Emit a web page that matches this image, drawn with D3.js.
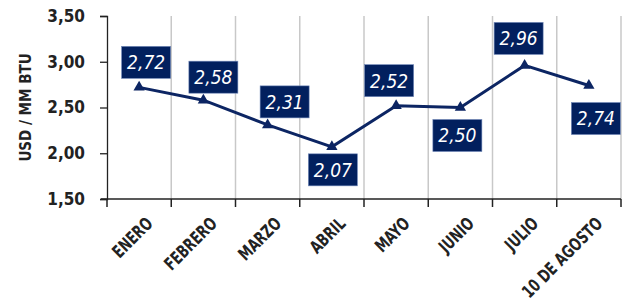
<!DOCTYPE html>
<html>
<head>
<meta charset="utf-8">
<script src="https://cdn.jsdelivr.net/npm/d3@7"></script>
<style>
  body { margin: 0; background: #fff; }
  text { font-family: "DejaVu Sans Condensed", "Liberation Sans Narrow", "DejaVu Sans", sans-serif; font-stretch: condensed; }
</style>
</head>
<body>
<div id="chart"></div>
<script>
// data
var months = ["ENERO", "FEBRERO", "MARZO", "ABRIL", "MAYO", "JUNIO", "JULIO", "10 DE AGOSTO"];
var prices = [2.72, 2.58, 2.31, 2.07, 2.52, 2.50, 2.96, 2.74];
var yTicks = [1.5, 2.0, 2.5, 3.0, 3.5];

// where each value box sits relative to its point [dx, dy]
var labelOffsets = [[7, -25], [10, -23], [17, -23], [1, 23], [-7, -25], [-3, 28], [-6, -27], [7, 33]];

var width = 625, height = 308;
var margin = { top: 16, right: 4, bottom: 109, left: 107 };

var svg = d3.select("#chart")
    .append("svg")
    .attr("width", width)
    .attr("height", height);

var x = d3.scaleBand()
    .domain(months)
    .range([margin.left, width - margin.right]);

var y = d3.scaleLinear()
    .domain([1.5, 3.5])
    .range([height - margin.bottom, margin.top]);

var fmt = function (v) { return d3.format(".2f")(v).replace(".", ","); };

// vertical grid lines at band edges
var edges = months.map(function (m) { return x(m) + x.bandwidth(); });
svg.selectAll(".grid")
    .data(edges)
    .enter()
    .append("line")
    .attr("x1", function (d) { return d; })
    .attr("x2", function (d) { return d; })
    .attr("y1", y(3.5))
    .attr("y2", y(1.5))
    .attr("stroke", "#c8c8c8")
    .attr("stroke-width", 1.5);

// Y axis
var yAxis = svg.append("g")
    .attr("transform", "translate(" + margin.left + ",0)")
    .call(d3.axisLeft(y).tickValues(yTicks).tickFormat(fmt).tickSize(7).tickPadding(15));
yAxis.select(".domain").attr("stroke", "#222").attr("stroke-width", 1.3);
yAxis.selectAll(".tick line").attr("stroke", "#222").attr("stroke-width", 1.3);
yAxis.selectAll("text")
    .style("font-size", "17px")
    .style("font-weight", "bold")
    .attr("fill", "#222");

// X axis
var xAxis = svg.append("g")
    .attr("transform", "translate(0," + y(1.5) + ")");
xAxis.append("line")
    .attr("x1", x.range()[0] - 6)
    .attr("x2", x.range()[1])
    .attr("stroke", "#222")
    .attr("stroke-width", 1.5);
xAxis.selectAll(".xt")
    .data([x.range()[0]].concat(edges))
    .enter()
    .append("line")
    .attr("x1", function (d) { return d; })
    .attr("x2", function (d) { return d; })
    .attr("y1", 0)
    .attr("y2", 8)
    .attr("stroke", "#222")
    .attr("stroke-width", 1.5);
xAxis.selectAll(".xl")
    .data(months)
    .enter()
    .append("text")
    .attr("text-anchor", "end")
    .attr("transform", function (d) {
        return "translate(" + (x(d) + x.bandwidth() / 2 + 6) + ",17) rotate(-45) scale(0.88,1.1)";
    })
    .attr("dy", "0.7em")
    .style("font-size", "16px")
    .style("font-weight", "bold")
    .attr("fill", "#222")
    .text(function (d) { return d; });

// Y axis label
svg.append("text")
    .attr("text-anchor", "middle")
    .attr("transform", "translate(31," + ((y(1.5) + y(3.5)) / 2) + ") rotate(-90)")
    .style("font-size", "15px")
    .style("font-weight", "bold")
    .attr("fill", "#222")
    .text("USD / MM BTU");

// line
var line = d3.line()
    .x(function (d, i) { return x(months[i]) + x.bandwidth() / 2; })
    .y(function (d) { return y(d); });

svg.append("path")
    .datum(prices)
    .attr("fill", "none")
    .attr("stroke", "#0c2563")
    .attr("stroke-width", 3)
    .attr("d", line);

svg.selectAll(".mark")
    .data(prices)
    .enter()
    .append("path")
    .attr("d", d3.symbol().type(d3.symbolTriangle).size(55))
    .attr("transform", function (d, i) {
        return "translate(" + (x(months[i]) + x.bandwidth() / 2) + "," + y(d) + ")";
    })
    .attr("fill", "#0c2563");

// value boxes
var boxW = 49, boxH = 32;
var lab = svg.selectAll(".lab")
    .data(prices)
    .enter()
    .append("g")
    .attr("transform", function (d, i) {
        var cx = x(months[i]) + x.bandwidth() / 2 + labelOffsets[i][0];
        var cy = y(d) + labelOffsets[i][1];
        return "translate(" + cx + "," + cy + ")";
    });
lab.append("rect")
    .attr("x", -boxW / 2)
    .attr("y", -boxH / 2)
    .attr("width", boxW)
    .attr("height", boxH)
    .attr("fill", "#02205e")
    .attr("stroke", "#6f86b8")
    .attr("stroke-width", 0.6);
lab.append("text")
    .attr("text-anchor", "middle")
    .attr("dy", "0.36em")
    .style("font-size", "19px")
    .style("font-style", "italic")
    .attr("fill", "#fff")
    .text(function (d) { return fmt(d); });
</script>
</body>
</html>
